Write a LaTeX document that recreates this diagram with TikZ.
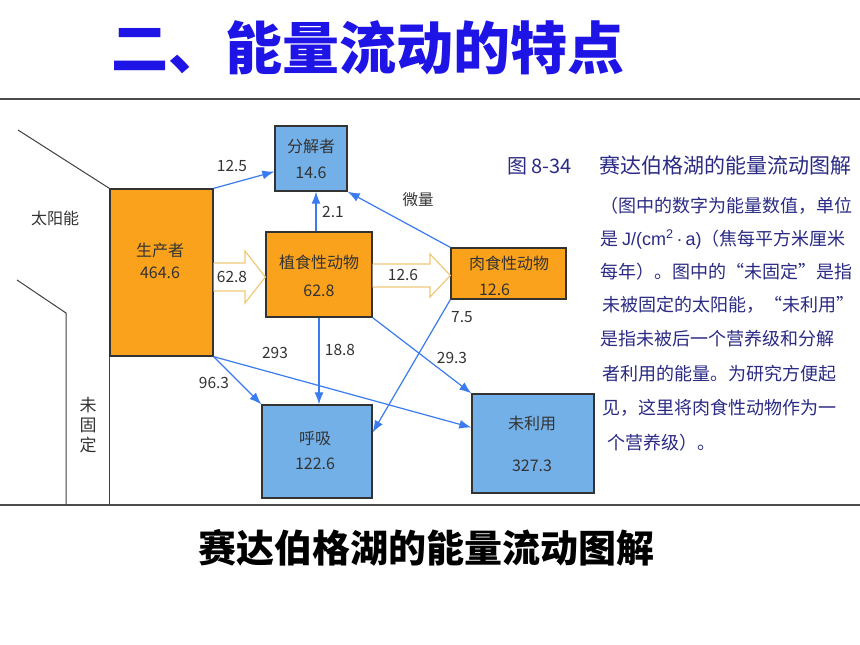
\documentclass[tikz,border=0pt]{standalone}
\usepackage{fontspec}
\newfontfamily\cjk{Noto Sans CJK SC}
\newfontfamily\latn{Liberation Sans}
\usetikzlibrary{arrows.meta,calc}
\definecolor{titleblue}{HTML}{1E14E6}
\definecolor{orangebox}{HTML}{FAA21B}
\definecolor{bluebox}{HTML}{74B0E8}
\definecolor{arrowblue}{HTML}{3A7BF0}
\definecolor{hollowc}{HTML}{F0C878}
\definecolor{navytext}{HTML}{2B2B85}
\definecolor{labelgray}{HTML}{333333}
\begin{document}
\begin{tikzpicture}[x=1pt,y=-1pt,
  box/.style={draw=black!80, line width=1.3pt, inner sep=0pt, text=labelgray, font=\cjk\fontsize{15}{20}\selectfont, align=center},
  obox/.style={box, fill=orangebox},
  bbox/.style={box, fill=bluebox},
  flow/.style={draw=arrowblue, line width=1.2pt, -{Latex[length=12pt,width=9pt]}},
  lbl/.style={text=labelgray, font=\cjk\fontsize{15.5}{15.5}\selectfont, inner sep=0pt},
  hollowarrow/.style={draw=hollowc, line width=1.2pt, fill=white, line join=miter},
  sunline/.style={draw=black!75, line width=1pt},
  rule/.style={draw=black!70, line width=1.3pt},
  rtext/.style={text=navytext, font=\cjk\fontsize{18}{18}\selectfont, anchor=base west, inner sep=0pt},
]
\useasboundingbox (0,0) rectangle (860,645);
\fill[white] (0,0) rectangle (860,645);

% title
\node[font=\cjk\bfseries\fontsize{57}{57}\selectfont, text=titleblue, inner sep=0pt] (title) at (368,48) {二、能量流动的特点};

% rules
\coordinate (topL) at (0,99);
\coordinate (topR) at (860,99);
\coordinate (botL) at (0,505);
\coordinate (botR) at (860,505);
\draw[rule] (topL) -- (topR);
\draw[rule] (botL) -- (botR);

% boxes
\node[obox, minimum width=103pt, minimum height=167pt] (prod) at (161.5,272.5) {};
\node[bbox, minimum width=72pt, minimum height=65pt] (dec) at (311,158.5) {};
\node[obox, minimum width=106pt, minimum height=85pt] (herb) at (319,274.5) {};
\node[obox, minimum width=115pt, minimum height=51pt] (carn) at (508.5,273.5) {};
\node[bbox, minimum width=110pt, minimum height=93pt] (resp) at (317,451.5) {};
\node[bbox, minimum width=122pt, minimum height=99pt] (unused) at (533,443.5) {};

% box texts
\node[lbl, align=center, font=\cjk\fontsize{16}{22}\selectfont] (prodt) at (160,261) {生产者\\464.6};
\node[lbl, align=center, font=\cjk\fontsize{16}{26}\selectfont] (dect) at (311,159) {分解者\\14.6};
\node[lbl, align=center, font=\cjk\fontsize{16}{28}\selectfont] (herbt) at (319,276) {植食性动物\\62.8};
\node[lbl, align=left, font=\cjk\fontsize{16}{26}\selectfont] (carnt) at (509,276) {肉食性动物\\\hspace*{10pt}12.6};
\node[lbl, align=center, font=\cjk\fontsize{16}{25}\selectfont] (respt) at (315,450.5) {呼吸\\122.6};
\node[lbl, align=center, font=\cjk\fontsize{16}{42}\selectfont] (unusedt) at (532,444) {未利用\\327.3};

% sun lines
\coordinate (s1) at (18,130);
\coordinate (s2) at (17,280);
\coordinate (s3) at (66,313);
\draw[sunline] (s1) -- (prod.north west);
\draw[sunline] (s2) -- (s3) -- (s3 |- botL);
\draw[sunline] (prod.south west) -- (prod.south west |- botL);
\node[lbl, font=\cjk\fontsize{16}{16}\selectfont] (sun) at (55,218) {太阳能};
\node[lbl, align=center, font=\cjk\fontsize{17}{20}\selectfont] (unfixed) at (88,425) {未\\固\\定};

% hollow arrows
\draw[hollowarrow] (prod.east |- 0,263) -- (245,263) -- (245,251) -- (herb.west |- 0,277) -- (245,303) -- (245,291) -- (prod.east |- 0,291);
\draw[hollowarrow] (herb.east |- 0,264) -- (430,264) -- (430,254) -- (carn.west |- 0,275.5) -- (430,297) -- (430,287) -- (herb.east |- 0,287);

% flows
\draw[flow] (prod.north east) -- ($(dec.south west)+(0,-20)$);
\draw[flow] (herb.north -| 316,0) -- (dec.south -| 316,0);
\draw[flow] (carn.north west) -- (dec.south east);
\draw[flow] (herb.south) -- (herb.south |- resp.north);
\draw[flow] (prod.south east) -- (resp.north west);
\draw[flow] (prod.south east) -- ($(unused.west)+(0,-16)$);
\draw[flow] (herb.south east) -- (unused.north west);
\draw[flow] (carn.south west) -- ($(resp.east)+(0,-19)$);

% flow labels
\node[lbl] (l125) at (232,166) {12.5};
\node[lbl] (l628) at (232,277) {62.8};
\node[lbl] (l21) at (333,212) {2.1};
\node[lbl] (lwl) at (418,200) {微量};
\node[lbl] (l126) at (403,275) {12.6};
\node[lbl] (l75) at (462,317) {7.5};
\node[lbl] (l293) at (275,353) {293};
\node[lbl] (l188) at (340,350) {18.8};
\node[lbl] (l293b) at (452,358) {29.3};
\node[lbl] (l963) at (214,383) {96.3};

% right text
\node[rtext, font=\cjk\fontsize{20}{20}\selectfont] (fignum) at (507,173) {图 8-34};
\node[rtext, font=\cjk\fontsize{21}{21}\selectfont] (figtitle) at (599,173) {赛达伯格湖的能量流动图解};
\node[rtext] (r1) at (600,212) {（图中的数字为能量数值，单位};
\node[rtext] (r2) at (600,245) {是 {\latn J/(cm\textsuperscript{2}\,·\,a)}（焦每平方米厘米};
\node[rtext] (r3) at (600,278) {每年）。图中的“未固定”是指};
\node[rtext] (r4) at (602,311) {未被固定的太阳能，“未利用”};
\node[rtext] (r5) at (600,345) {是指未被后一个营养级和分解};
\node[rtext] (r6) at (602,380) {者利用的能量。为研究方便起};
\node[rtext] (r7) at (602,414) {见，这里将肉食性动物作为一};
\node[rtext] (r8) at (607,449) {个营养级）。};

% caption
\node[font=\cjk\bfseries\fontsize{38}{38}\selectfont, text=black, inner sep=0pt] (caption) at (426,548) {赛达伯格湖的能量流动图解};
\end{tikzpicture}
\end{document}
